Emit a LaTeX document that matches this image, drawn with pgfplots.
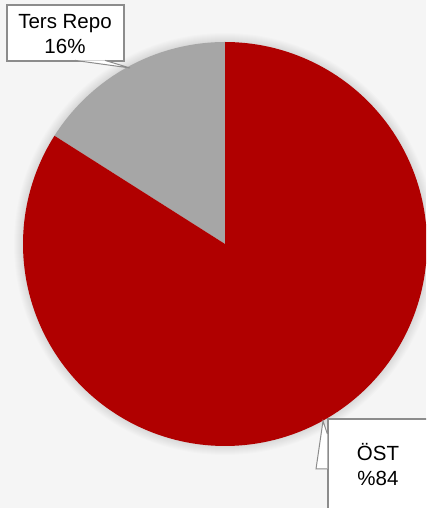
\documentclass[border=0pt]{standalone}
\usepackage{pgfplots}
\usepackage{pgfplotstable}
\pgfplotsset{compat=1.18}
\usepackage{fontspec}
\setmainfont{Liberation Sans}
\definecolor{ostred}{HTML}{B00000}
\definecolor{repogray}{HTML}{A6A6A6}
\definecolor{bg}{HTML}{F5F5F5}
\definecolor{boxline}{HTML}{8C8C8C}
\pgfplotstableread{
label value
Ters 16
OST 84
}\piedata
\begin{document}
\begin{tikzpicture}[x=1pt,y=1pt]
\pgfplotstablegetelem{0}{value}\of\piedata \let\vA\pgfplotsretval
\pgfplotstablegetelem{1}{value}\of\piedata \let\vB\pgfplotsretval
\pgfmathsetmacro{\aStart}{90}
\pgfmathsetmacro{\aMid}{90+3.6*\vA}
\pgfmathsetmacro{\aEnd}{\aMid+3.6*\vB}
\clip (0,0) rectangle (426,508);
\fill[bg] (0,0) rectangle (426,508);
\begin{axis}[at={(0,0)}, anchor=south west, scale only axis,
  width=426pt, height=508pt, xmin=0, xmax=426, ymin=0, ymax=508,
  hide axis, clip=false]
% soft shadow
\foreach \i in {1,...,9} {
  \edef\tmp{\noexpand\fill[black, opacity=0.012] (axis cs:225,264) circle[radius=\the\numexpr202+\i\relax pt];}
  \tmp
}
\addplot[fill=repogray, draw=none, domain=\aStart:\aMid, samples=80]
  ({225+202*cos(x)},{264+202*sin(x)}) -- (axis cs:225,264) -- cycle;
\addplot[fill=ostred, draw=none, domain=\aMid:\aEnd, samples=200]
  ({225+202*cos(x)},{264+202*sin(x)}) -- (axis cs:225,264) -- cycle;
% callout 1
\draw[boxline, fill=white, line width=1.2pt] (axis cs:7,447) rectangle (axis cs:124,503);
\draw[boxline, fill=white, line width=1pt] (axis cs:75,447.6) -- (axis cs:130,440) -- (axis cs:105,447.6);
\node[align=center, font=\fontsize{20.5}{25}\selectfont] at (axis cs:65,474) {Ters Repo\\16\%};
% callout 2
\draw[boxline, fill=white, line width=1.2pt] (axis cs:328,-20) rectangle (axis cs:460,89);
\draw[boxline, fill=white, line width=1pt] (axis cs:327.4,39) -- (axis cs:316,39) -- (axis cs:323,87) -- (axis cs:327.4,74);
\node[align=center, font=\fontsize{20.5}{25}\selectfont] at (axis cs:378,43) {ÖST\\\%84};
\end{axis}
\end{tikzpicture}
\end{document}
